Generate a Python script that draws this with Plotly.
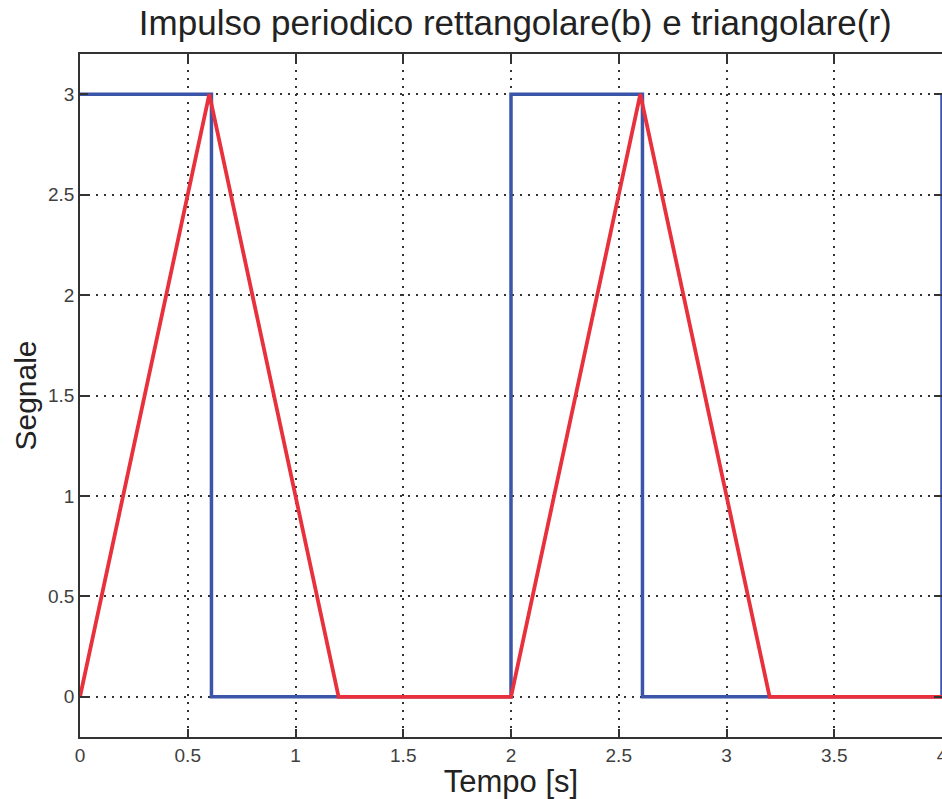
import plotly.graph_objects as go

# Periodic rectangular pulse (blue) and triangular pulse (red), period 2 s
rect_t = [0, 0.61, 0.61, 2.0, 2.0, 2.61, 2.61, 4.0, 4.0]
rect_y = [3, 3, 0, 0, 3, 3, 0, 0, 3]

tri_t = [0, 0.6, 1.2, 2.0, 2.6, 3.2, 4.0]
tri_y = [0, 3, 0, 0, 3, 0, 0]

x_ticks = [0, 0.5, 1, 1.5, 2, 2.5, 3, 3.5, 4]
x_tick_text = ["0", "0.5", "1", "1.5", "2", "2.5", "3", "3.5", "4"]
y_ticks = [0, 0.5, 1, 1.5, 2, 2.5, 3]
y_tick_text = ["0", "0.5", "1", "1.5", "2", "2.5", "3"]

FONT = "Liberation Sans, Arial, sans-serif"

fig = go.Figure()
fig.add_trace(go.Scatter(x=rect_t, y=rect_y, mode="lines",
                         line=dict(color="#3b55a8", width=3.5), showlegend=False))
fig.add_trace(go.Scatter(x=tri_t, y=tri_y, mode="lines",
                         line=dict(color="#e8313c", width=3.8), showlegend=False))

axis_common = dict(
    showline=True, linecolor="#333333", linewidth=1.5, mirror="ticks",
    ticks="inside", ticklen=8, tickwidth=1.5, tickcolor="#333333",
    showgrid=True, gridcolor="#333333", griddash="2px,6px", gridwidth=1.8,
    zeroline=False, ticklabeloverflow="allow", automargin=False,
    tickfont=dict(family=FONT, size=19, color="#404040"),
)

fig.update_xaxes(range=[0, 4], tickvals=x_ticks, ticktext=x_tick_text,
                 title=dict(text="Tempo [s]", standoff=2,
                            font=dict(family=FONT, size=31, color="#222222")),
                 **axis_common)
fig.update_yaxes(range=[-0.2, 3.2], tickvals=y_ticks, ticktext=y_tick_text,
                 title=dict(text="Segnale", standoff=3,
                            font=dict(family=FONT, size=30, color="#222222")),
                 **axis_common)

fig.update_layout(
    width=942, height=799,
    margin=dict(l=80, r=0, t=54, b=62),
    plot_bgcolor="white", paper_bgcolor="white",
    title=dict(text="Impulso periodico rettangolare(b) e triangolare(r)",
               x=0.547, xanchor="center", y=0.972, yanchor="middle",
               font=dict(family=FONT, size=35, color="#222222")),
)

fig.write_html("out.html")
